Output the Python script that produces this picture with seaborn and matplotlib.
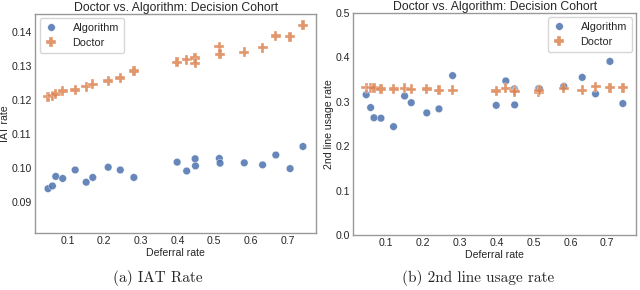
import matplotlib
matplotlib.use("Agg")
import matplotlib.pyplot as plt
import numpy as np
import pandas as pd
import seaborn as sns

# deferral rates shared by both panels
deferral = [0.047, 0.059, 0.068, 0.087, 0.121, 0.151, 0.169, 0.211, 0.244, 0.281,
            0.399, 0.425, 0.448, 0.449, 0.514, 0.516, 0.582, 0.632, 0.668, 0.707, 0.742]

iat_algorithm = [0.0938, 0.0946, 0.0974, 0.0968, 0.0993, 0.0957, 0.0971, 0.1001, 0.0993, 0.0971,
                 0.1016, 0.0990, 0.1026, 0.1005, 0.1027, 0.1013, 0.1014, 0.1008, 0.1037, 0.0997, 0.1062]
iat_doctor = [0.1209, 0.1212, 0.1216, 0.1225, 0.1228, 0.1238, 0.1245, 0.1255, 0.1264, 0.1284,
              0.1310, 0.1317, 0.1322, 0.1307, 0.1356, 0.1333, 0.1339, 0.1353, 0.1387, 0.1385, 0.1418]

second_algorithm = [0.316, 0.287, 0.264, 0.263, 0.244, 0.313, 0.298, 0.275, 0.284, 0.359,
                    0.292, 0.347, 0.329, 0.293, 0.330, 0.329, 0.335, 0.355, 0.318, 0.391, 0.296]
second_doctor = [0.332, 0.332, 0.331, 0.329, 0.329, 0.330, 0.328, 0.329, 0.326, 0.326,
                 0.324, 0.330, 0.326, 0.323, 0.321, 0.326, 0.330, 0.326, 0.334, 0.332, 0.332]

groups = ["Algorithm", "Doctor"]


def long_df(alg, doc):
    n = len(deferral)
    return pd.DataFrame({
        "Deferral rate": deferral + deferral,
        "value": alg + doc,
        "who": [groups[0]] * n + [groups[1]] * n,
    })


sns.set_theme(style="white", palette="deep")
plt.rcParams["font.family"] = ["Liberation Sans", "DejaVu Sans"]

fig = plt.figure(figsize=(6.4, 2.9), dpi=100)
ax1 = fig.add_axes([0.055, 0.197, 0.439, 0.755])
ax2 = fig.add_axes([0.552, 0.19, 0.442, 0.765])

markers = {"Algorithm": "o", "Doctor": "P"}
sizes = {"Algorithm": 30, "Doctor": 52}

for ax, alg, doc, ylab, loc in [
    (ax1, iat_algorithm, iat_doctor, "IAT rate", "upper left"),
    (ax2, second_algorithm, second_doctor, "2nd line usage rate", "upper right"),
]:
    sns.scatterplot(data=long_df(alg, doc), x="Deferral rate", y="value",
                    hue="who", style="who", size="who", sizes=sizes,
                    markers=markers, alpha=0.85, linewidth=0.3,
                    edgecolor="white", ax=ax)
    ax.set_ylabel(ylab, fontsize=7.6, labelpad=1.2)
    ax.set_xlabel("Deferral rate", fontsize=7.6, labelpad=1)
    ax.set_title("Doctor vs. Algorithm: Decision Cohort", fontsize=8.8, pad=2)
    ax.tick_params(labelsize=7.6, length=0, pad=2.5)
    ax.set_xticks([0.1, 0.2, 0.3, 0.4, 0.5, 0.6, 0.7])
    for sp in ax.spines.values():
        sp.set_color("#999999")
        sp.set_linewidth(1.0)
    ax.legend(loc=loc, fontsize=7.8, frameon=True, borderpad=0.45,
              handlelength=1.2, handletextpad=1.4, labelspacing=0.45,
              borderaxespad=0.4, markerscale=1.0)

ax1.set_xlim(0.012, 0.778)
ax1.set_ylim(0.0808, 0.1452)
ax1.set_yticks([0.09, 0.10, 0.11, 0.12, 0.13, 0.14])
ax1.set_yticklabels(["0.09", "0.10", "0.11", "0.12", "0.13", "0.14"])

ax2.set_xlim(0.012, 0.778)
ax2.set_ylim(0.0, 0.5)

fig.text(0.247, 0.041, "(a) IAT Rate", ha="center", va="center",
         fontsize=11, family="cmr10")
fig.text(0.747, 0.041, "(b) 2nd line usage rate", ha="center", va="center",
         fontsize=11, family="cmr10")

fig.savefig("out.png", dpi=100)
